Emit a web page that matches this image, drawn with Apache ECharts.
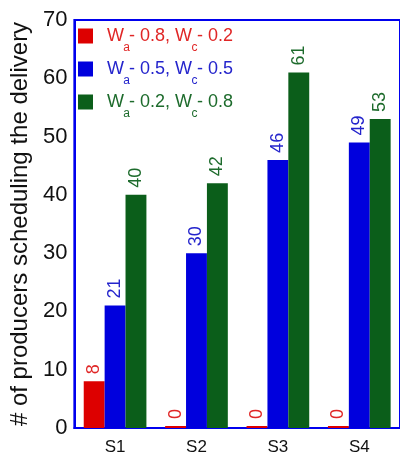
<!DOCTYPE html>
<html>
<head>
<meta charset="utf-8">
<script src="https://cdn.jsdelivr.net/npm/echarts@6/dist/echarts.min.js"></script>
<style>html,body{margin:0;padding:0;background:#fff}#c{width:400px;height:457px}</style>
</head>
<body>
<div id="c"></div>
<script>
const categories = ['S1', 'S2', 'S3', 'S4'];
const seriesNames = ['W - 0.8, W - 0.2', 'W - 0.5, W - 0.5', 'W - 0.2, W - 0.8'];
const subLetters = ['a', 'c'];
const redValues = [8, 0, 0, 0];
const blueValues = [21, 30, 46, 49];
const greenValues = [40, 42, 61, 53];
const yTicks = [0, 10, 20, 30, 40, 50, 60, 70];

const barColors = ['#dd0000', '#0000dd', '#0b5e1a'];
const textColors = ['#e02626', '#2424cc', '#1d6b2c'];
const FONT = 'Liberation Sans, Arial, sans-serif';

// legend layout
const LEG_TOP = 27, LEG_ROW = 33, LEG_TEXT_X = 107, LEG_FS = 18;
const subOffsetsX = [19.5, 87.5];

const chart = echarts.init(document.getElementById('c'));
const valueSets = [redValues, blueValues, greenValues];

const subGraphics = [];
seriesNames.forEach((n, i) => {
  subLetters.forEach((s, k) => {
    subGraphics.push({
      type: 'text', z: 100,
      x: LEG_TEXT_X + subOffsetsX[k], y: LEG_TOP + LEG_FS / 2 + i * LEG_ROW + 12,
      style: { text: s, fill: textColors[i], font: '12px ' + FONT, align: 'center', verticalAlign: 'middle' }
    });
  });
});

chart.setOption({
  animation: false,
  graphic: subGraphics,
  grid: { left: 72, right: -7, top: 20, bottom: 29, show: true, borderColor: '#0000ee', borderWidth: 2, containLabel: false },
  legend: {
    left: 78, top: LEG_TOP, orient: 'vertical', padding: 0, itemGap: LEG_ROW - LEG_FS,
    itemWidth: 15, itemHeight: 15, icon: 'rect',
    data: seriesNames.map((n, i) => ({ name: n, textStyle: { color: textColors[i] } })),
    textStyle: { fontSize: LEG_FS, fontFamily: FONT, padding: [0, 0, 0, 9], lineHeight: LEG_FS }
  },
  xAxis: {
    type: 'category', data: categories,
    axisLine: { lineStyle: { color: '#0000ee', width: 2 } },
    axisTick: { show: false },
    axisLabel: { color: '#111', fontSize: 17, fontFamily: FONT, margin: 11 }
  },
  yAxis: {
    type: 'value', min: yTicks[0], max: yTicks[yTicks.length - 1], interval: 10,
    name: '# of producers scheduling the delivery', nameLocation: 'middle', nameGap: 38,
    nameTextStyle: { color: '#111', fontSize: 24, fontFamily: FONT },
    axisLine: { show: true, lineStyle: { color: '#0000ee', width: 2 } },
    axisTick: { show: false },
    splitLine: { show: false },
    axisLabel: { color: '#111', fontSize: 22, fontFamily: FONT, margin: 7 }
  },
  series: valueSets.map((vals, i) => ({
    name: seriesNames[i], type: 'bar', data: vals,
    barGap: 0, barCategoryGap: '23%',
    barMinHeight: i === 0 ? 2 : 0,
    itemStyle: { color: barColors[i] },
    label: {
      show: true, position: 'top', rotate: 90, align: 'left', verticalAlign: 'middle',
      distance: 7, color: textColors[i], fontSize: 18, fontFamily: FONT
    }
  }))
});
</script>
</body>
</html>
